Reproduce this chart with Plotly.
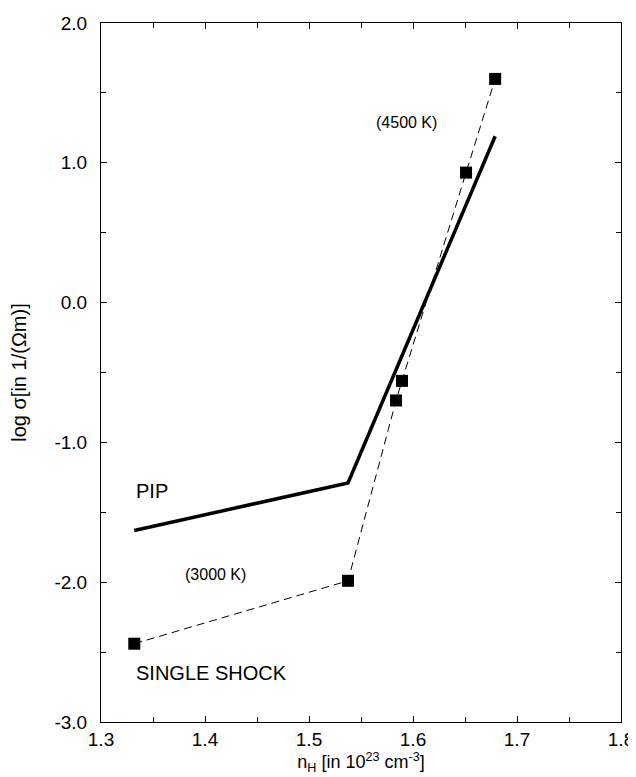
import plotly.graph_objects as go

# Single shock data (squares, dashed line)
shock_x = [1.332, 1.5375, 1.5837, 1.5894, 1.651, 1.679]
shock_y = [-2.44, -1.99, -0.70, -0.56, 0.93, 1.60]

# PIP line
pip_x = [1.332, 1.5375, 1.679]
pip_y = [-1.63, -1.29, 1.19]

x_ticks = [1.3, 1.4, 1.5, 1.6, 1.7, 1.8]
y_ticks = [-3.0, -2.0, -1.0, 0.0, 1.0, 2.0]

FONT = "Liberation Sans, Arial, Helvetica, sans-serif"

fig = go.Figure()
fig.add_trace(go.Scatter(
    x=shock_x, y=shock_y, mode="lines+markers",
    line=dict(color="black", width=1, dash="8px,5px"),
    marker=dict(symbol="square", size=12, color="black"),
    showlegend=False))
fig.add_trace(go.Scatter(
    x=pip_x, y=pip_y, mode="lines",
    line=dict(color="black", width=3.5),
    showlegend=False))

annots = [
    dict(x=1.594, y=1.29, text="(4500 K)", xanchor="center", size=16),
    dict(x=1.332, y=-1.35, text="PIP", xanchor="left", size=20),
    dict(x=1.41, y=-1.945, text="(3000 K)", xanchor="center", size=16),
    dict(x=1.332, y=-2.646, text="SINGLE SHOCK", xanchor="left", size=20),
]
for a in annots:
    fig.add_annotation(x=a["x"], y=a["y"], text=a["text"], showarrow=False,
                       xanchor=a["xanchor"], yanchor="middle",
                       font=dict(family=FONT, size=a["size"], color="black"))

# page has an 8px body margin: figure is offset by 8px right/down
fig.update_layout(
    width=628, height=769,
    margin=dict(l=93, r=15, t=15, b=55),
    plot_bgcolor="white", paper_bgcolor="white",
    font=dict(family=FONT, color="black"),
    xaxis=dict(
        range=[1.3, 1.8], tickvals=x_ticks,
        ticktext=[f"{v:.1f}" for v in x_ticks],
        ticks="inside", ticklen=6, tickcolor="black",
        showline=True, linecolor="black", linewidth=1, mirror="allticks",
        showgrid=False, zeroline=False, automargin=False,
        tickfont=dict(size=19), ticklabeloverflow="allow",
        minor=dict(dtick=0.05, tick0=1.3, ticks="inside", ticklen=5, tickcolor="black"),
        title=dict(text="n<sub>H</sub> [in 10<sup>23</sup> cm<sup>-3</sup>]",
                   font=dict(size=18), standoff=2),
    ),
    yaxis=dict(
        range=[-3.0, 2.0], tickvals=y_ticks,
        ticktext=[f"{v:.1f}" for v in y_ticks],
        ticks="inside", ticklen=6, tickcolor="black",
        showline=True, linecolor="black", linewidth=1, mirror="allticks",
        showgrid=False, zeroline=False, automargin=False,
        tickfont=dict(size=19), ticklabelstandoff=9, ticklabeloverflow="allow",
        minor=dict(dtick=0.5, tick0=-3.0, ticks="inside", ticklen=5, tickcolor="black"),
        title=dict(text="log σ[in 1/(Ωm)]", font=dict(size=20), standoff=25),
    ),
)

fig.write_html("out.html")
